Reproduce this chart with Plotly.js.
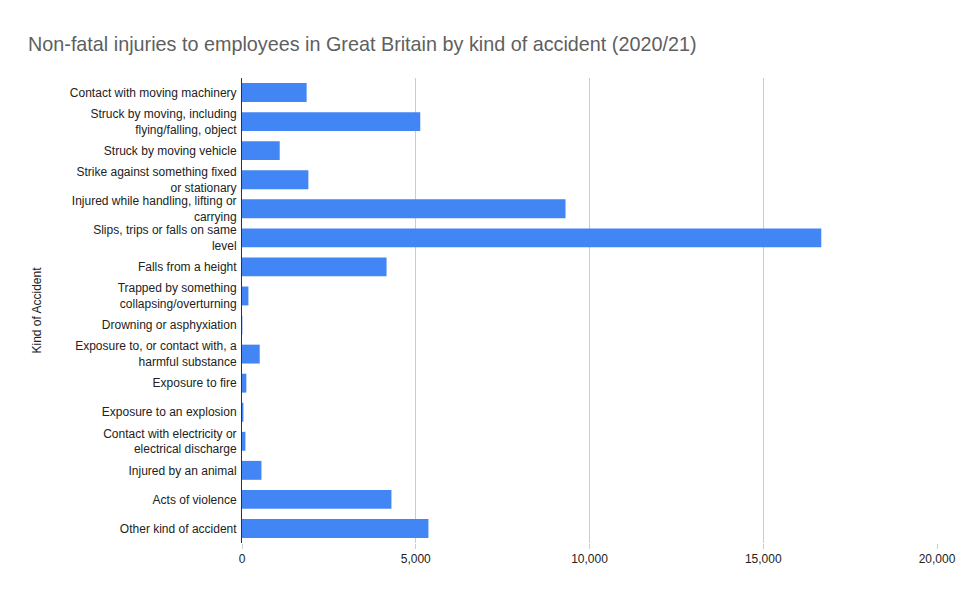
<!DOCTYPE html>
<html>
<head>
<meta charset="utf-8">
<script src="https://cdn.plot.ly/plotly-3.0.1.min.js"></script>
<style>html,body{margin:0;padding:0;background:#fff;}#chart{width:967px;height:598px;}</style>
</head>
<body>
<div id="chart"></div>
<script>
const categories = [
  "Contact with moving machinery",
  "Struck by moving, including<br>flying/falling, object",
  "Struck by moving vehicle",
  "Strike against something fixed<br>or stationary",
  "Injured while handling, lifting or<br>carrying",
  "Slips, trips or falls on same<br>level",
  "Falls from a height",
  "Trapped by something<br>collapsing/overturning",
  "Drowning or asphyxiation",
  "Exposure to, or contact with, a<br>harmful substance",
  "Exposure to fire",
  "Exposure to an explosion",
  "Contact with electricity or<br>electrical discharge",
  "Injured by an animal",
  "Acts of violence",
  "Other kind of accident"
];
const injuries = [1860, 5130, 1085, 1910, 9310, 16670, 4160, 185, 10, 510, 125, 40, 98, 560, 4300, 5365];
const xTickValues = [0, 5000, 10000, 15000, 20000];
const xTickLabels = ["0", "5,000", "10,000", "15,000", "20,000"];

const trace = {
  type: "bar",
  orientation: "h",
  y: categories,
  x: injuries,
  marker: {color: "#4285F4"},
  hoverinfo: "x+y"
};

const layout = {
  width: 967,
  height: 598,
  margin: {l: 242, r: 30, t: 78, b: 55},
  paper_bgcolor: "#ffffff",
  plot_bgcolor: "#ffffff",
  font: {family: "'Liberation Sans', Arial, sans-serif", size: 12, color: "#222222"},
  title: {
    text: "Non-fatal injuries to employees in Great Britain by kind of accident (2020/21)",
    font: {family: "'Liberation Sans', Arial, sans-serif", size: 19.8, color: "#5f5f5f"},
    x: 28 / 967, xref: "container", xanchor: "left",
    y: 1 - 44 / 598, yref: "container", yanchor: "middle"
  },
  bargap: 0.35,
  showlegend: false,
  xaxis: {
    range: [0, 20000],
    tickvals: xTickValues,
    ticktext: xTickLabels,
    showgrid: true,
    gridcolor: "#cccccc",
    gridwidth: 1,
    zeroline: false,
    ticks: "outside",
    ticklen: 5,
    tickcolor: "#cccccc",
    showline: false,
    tickfont: {size: 12, color: "#222222"}
  },
  yaxis: {
    autorange: "reversed",
    type: "category",
    showgrid: false,
    showline: true,
    linecolor: "#333333",
    linewidth: 1,
    ticks: "",
    ticklabelstandoff: 2,
    tickfont: {size: 12, color: "#222222"},
    title: {text: "Kind of Accident", font: {size: 12, color: "#222222"}, standoff: 25}
  }
};

Plotly.newPlot("chart", [trace], layout, {displayModeBar: false, staticPlot: true});
</script>
</body>
</html>
